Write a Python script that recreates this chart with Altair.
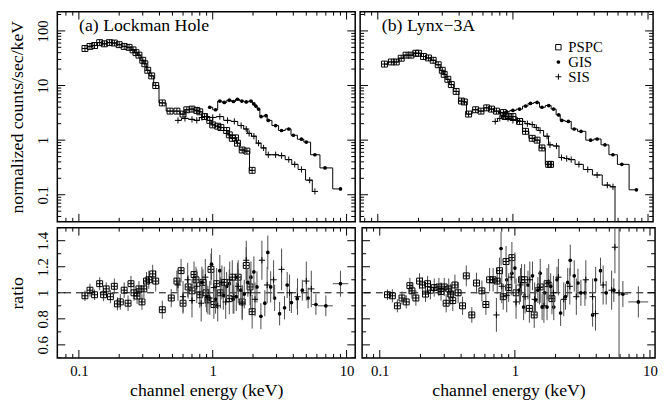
import altair as alt
import pandas as pd

# ---------------- Panel (a) Lockman Hole : spectra ----------------
a_pspc_e = [0.111, 0.121, 0.131, 0.143, 0.155, 0.169, 0.184, 0.20, 0.218, 0.237, 0.254, 0.267, 0.281, 0.30, 0.311,
            0.327, 0.35, 0.375, 0.42, 0.48, 0.54, 0.60, 0.64, 0.70, 0.76, 0.80, 0.87, 0.95, 1.0, 1.09, 1.15, 1.27,
            1.33, 1.40, 1.48, 1.53, 1.66, 1.80, 1.97]
a_pspc_f = [47.6, 52, 54, 61, 58, 61, 60, 56, 52, 50, 45, 40, 36, 29, 25, 19, 15, 10, 4.8, 3.4, 3.4, 3.0, 3.6, 3.7,
            3.5, 3.3, 2.7, 2.3, 1.9, 1.8, 1.7, 1.5, 1.25, 1.08, 1.1, 0.88, 0.66, 0.63, 0.28]
a_gis_e = [0.95, 1.05, 1.13, 1.22, 1.33, 1.43, 1.53, 1.65, 1.78, 1.93, 2.03, 2.1, 2.2, 2.3, 2.5, 2.6, 2.95, 3.27,
           3.7, 4.0, 4.6, 5.0, 5.8, 6.9, 9.0]
a_gis_f = [4.0, 3.6, 5.2, 4.9, 5.4, 5.1, 5.6, 5.2, 5.0, 5.2, 4.6, 4.2, 3.7, 2.7, 2.8, 2.3, 1.85, 1.5, 1.6, 1.23,
           1.04, 0.92, 0.54, 0.31, 0.128]
a_sis_e = [0.55, 0.62, 0.70, 0.76, 0.83, 0.90, 1.0, 1.13, 1.29, 1.45, 1.63, 1.78, 1.87, 2.03, 2.2, 2.4, 2.6, 2.95,
           3.27, 3.7, 4.1, 4.6, 5.3, 5.8]
a_sis_f = [2.3, 2.5, 2.4, 2.3, 2.6, 2.7, 2.6, 2.7, 2.3, 2.2, 1.85, 1.6, 1.33, 1.18, 0.88, 0.72, 0.54, 0.54, 0.52,
           0.44, 0.36, 0.29, 0.185, 0.115]

# ---------------- Panel (b) Lynx-3A : spectra ----------------
b_pspc_e = [0.112, 0.126, 0.137, 0.149, 0.162, 0.176, 0.191, 0.20, 0.218, 0.237, 0.257, 0.28, 0.30, 0.31, 0.33,
            0.35, 0.38, 0.416, 0.437, 0.47, 0.53, 0.58, 0.64, 0.695, 0.755, 0.85, 0.875, 0.93, 1.0, 1.12, 1.24,
            1.39, 1.51, 1.64, 1.84, 1.9]
b_pspc_f = [24.7, 27, 27, 31.6, 36, 36, 39, 39, 34, 32, 29, 24, 19, 16, 13, 10.4, 7.8, 5.2, 5.0, 3.0, 3.6, 3.4,
            3.9, 3.7, 3.4, 3.2, 2.7, 2.7, 2.7, 2.2, 1.45, 1.08, 1.0, 0.72, 0.36, 0.36]
b_gis_e = [0.8, 0.9, 1.0, 1.12, 1.24, 1.35, 1.51, 1.64, 1.84, 2.0, 2.18, 2.3, 2.57, 2.84, 3.19, 3.76, 4.2, 4.8,
           5.5, 6.4, 8.2]
b_gis_f = [3.2, 3.3, 3.5, 3.7, 4.2, 4.7, 4.9, 4.0, 4.3, 3.7, 2.9, 2.3, 2.2, 1.6, 1.45, 1.0, 1.05, 0.82, 0.54,
           0.36, 0.123]
b_sis_e = [0.74, 0.80, 0.85, 0.92, 1.0, 1.08, 1.18, 1.28, 1.39, 1.49, 1.59, 1.79, 1.88, 2.1, 2.29, 2.5, 2.7,
           3.08, 3.58, 4.2, 5.0, 5.5, 5.9]
b_sis_f = [2.2, 2.5, 2.7, 2.5, 2.3, 2.3, 2.2, 2.0, 1.93, 1.7, 1.5, 1.18, 0.82, 0.78, 0.48, 0.46, 0.44, 0.36,
           0.29, 0.23, 0.15, 0.14, 0.01]

# ---------------- Panel (a) : data/model ratio ----------------
ra_pspc_e = [0.111, 0.121, 0.131, 0.143, 0.153, 0.160, 0.172, 0.184, 0.194, 0.204, 0.218, 0.233, 0.245, 0.258,
             0.272, 0.281, 0.296, 0.306, 0.320, 0.333, 0.356, 0.375, 0.42, 0.49, 0.54, 0.58, 0.60, 0.655, 0.70,
             0.725, 0.75, 0.80, 0.845, 0.89, 0.92, 0.97, 1.02, 1.07, 1.14, 1.22, 1.33, 1.40, 1.55, 1.66, 1.78,
             1.90, 1.97]
ra_pspc_r = [0.977, 1.02, 0.985, 1.07, 0.985, 1.03, 0.97, 1.05, 0.915, 0.93, 1.02, 0.92, 1.07, 1.0, 0.975, 1.03,
             0.93, 1.03, 1.09, 1.10, 1.145, 1.09, 0.87, 0.96, 1.09, 1.17, 0.92, 1.045, 1.015, 1.14, 1.1, 0.985,
             1.08, 1.0, 0.945, 1.18, 0.91, 1.07, 1.0, 1.08, 0.955, 1.12, 1.12, 0.93, 1.21, 1.045, 0.855]
ra_pspc_s = [0.04, 0.05, 0.04, 0.05, 0.05, 0.05, 0.05, 0.06, 0.05, 0.06, 0.06, 0.06, 0.06, 0.06, 0.06, 0.06,
             0.06, 0.07, 0.07, 0.07, 0.07, 0.08, 0.07, 0.07, 0.08, 0.09, 0.08, 0.09, 0.09, 0.1, 0.1, 0.1, 0.1,
             0.11, 0.11, 0.12, 0.11, 0.12, 0.12, 0.12, 0.12, 0.13, 0.13, 0.13, 0.14, 0.14, 0.13]
ra_gis_e = [0.83, 0.90, 0.98, 1.05, 1.13, 1.20, 1.27, 1.33, 1.42, 1.50, 1.53, 1.62, 1.72, 1.83, 1.93, 2.03, 2.14,
            2.29, 2.45, 2.58, 2.71, 2.90, 3.16, 3.44, 3.60, 3.87, 4.28, 4.67, 5.16, 5.90, 7.0, 9.0]
ra_gis_r = [1.08, 0.97, 1.22, 0.95, 1.17, 0.98, 1.05, 1.07, 0.95, 0.97, 1.12, 1.02, 0.99, 1.08, 1.12, 1.16, 1.045,
            0.82, 0.92, 1.31, 1.045, 0.96, 0.84, 0.885, 1.06, 0.925, 0.955, 1.02, 0.96, 0.91, 0.9, 1.07]
ra_gis_s = [0.12, 0.12, 0.12, 0.11, 0.12, 0.11, 0.11, 0.11, 0.11, 0.11, 0.11, 0.11, 0.11, 0.11, 0.12, 0.12, 0.12,
            0.1, 0.1, 0.13, 0.12, 0.1, 0.09, 0.09, 0.1, 0.08, 0.08, 0.08, 0.08, 0.08, 0.08, 0.1]
ra_sis_e = [0.55, 0.60, 0.65, 0.70, 0.76, 0.82, 0.88, 0.95, 1.02, 1.09, 1.17, 1.25, 1.34, 1.44, 1.55, 1.66, 1.78,
            1.92, 2.07, 2.33, 2.55, 2.85, 3.27, 3.75, 4.3, 5.0, 5.45]
ra_sis_r = [1.06, 0.97, 1.1, 0.94, 1.05, 0.92, 1.12, 0.96, 1.04, 0.9, 1.08, 0.93, 1.1, 0.97, 1.05, 0.92, 1.25, 1.0,
            0.95, 1.25, 1.06, 1.1, 1.18, 1.0, 0.97, 1.09, 1.03]
ra_sis_s = [0.12, 0.12, 0.13, 0.13, 0.13, 0.14, 0.14, 0.13, 0.13, 0.12, 0.13, 0.13, 0.14, 0.13, 0.13, 0.13, 0.15,
            0.13, 0.13, 0.15, 0.14, 0.15, 0.16, 0.14, 0.14, 0.15, 0.14]
ra_wide_e = [5.9, 7.0, 9.0]
ra_wide_lo = [5.5, 6.1, 7.9]
ra_wide_hi = [6.1, 7.9, 10.3]
ra_wide_r = [0.91, 0.9, 1.07]

# ---------------- Panel (b) : data/model ratio ----------------
rb_pspc_e = [0.114, 0.124, 0.135, 0.146, 0.157, 0.167, 0.173, 0.185, 0.197, 0.207, 0.218, 0.226, 0.237, 0.253,
             0.274, 0.284, 0.30, 0.31, 0.324, 0.335, 0.347, 0.36, 0.38, 0.41, 0.437, 0.48, 0.52, 0.57, 0.61, 0.65,
             0.69, 0.74, 0.77, 0.82, 0.86, 0.90, 0.95, 1.02, 1.12, 1.18, 1.28, 1.39, 1.54, 1.73, 1.88]
rb_pspc_r = [0.985, 0.977, 0.90, 0.96, 0.93, 1.055, 1.015, 0.96, 1.09, 1.06, 0.99, 1.07, 1.02, 1.04, 1.045, 1.01,
             1.045, 0.92, 1.03, 0.99, 0.94, 1.06, 1.0, 0.9, 1.13, 0.83, 1.075, 1.015, 0.91, 1.1, 1.1, 1.09, 1.17,
             0.97, 1.24, 1.04, 1.27, 1.0, 1.1, 1.1, 0.88, 0.83, 1.045, 1.07, 0.955]
rb_pspc_s = [0.04, 0.05, 0.05, 0.05, 0.05, 0.06, 0.06, 0.06, 0.06, 0.06, 0.06, 0.06, 0.07, 0.07, 0.07, 0.07, 0.07,
             0.07, 0.08, 0.08, 0.08, 0.08, 0.08, 0.07, 0.08, 0.06, 0.08, 0.08, 0.08, 0.09, 0.09, 0.1, 0.1, 0.1,
             0.12, 0.11, 0.12, 0.11, 0.12, 0.12, 0.11, 0.1, 0.12, 0.12, 0.12]
rb_gis_e = [0.79, 0.87, 0.95, 1.0, 1.08, 1.16, 1.25, 1.35, 1.42, 1.48, 1.54, 1.59, 1.66, 1.73, 1.84, 1.94, 2.05,
            2.18, 2.37, 2.46, 2.57, 2.75, 2.93, 3.08, 3.3, 3.76, 3.96, 4.3, 4.74, 5.4, 6.3, 8.2]
rb_gis_r = [1.34, 1.1, 1.15, 1.19, 1.02, 0.89, 1.06, 1.13, 0.945, 1.02, 1.15, 0.89, 1.0, 0.89, 1.05, 0.89, 1.1,
            0.845, 0.97, 1.08, 1.25, 1.13, 1.075, 1.0, 1.0, 0.83, 1.1, 1.17, 1.0, 1.02, 0.99, 0.93]
rb_gis_s = [0.13, 0.12, 0.12, 0.12, 0.11, 0.1, 0.11, 0.11, 0.1, 0.1, 0.11, 0.1, 0.1, 0.1, 0.1, 0.1, 0.1, 0.1,
            0.1, 0.11, 0.12, 0.12, 0.11, 0.1, 0.1, 0.09, 0.1, 0.1, 0.09, 0.09, 0.1, 0.12]
rb_sis_e = [0.73, 0.80, 0.87, 0.94, 1.02, 1.10, 1.19, 1.29, 1.40, 1.52, 1.64, 1.78, 1.93, 2.1, 2.3, 2.55, 2.85,
            3.35, 3.76, 3.95, 4.5, 5.2, 5.5, 5.9]
rb_sis_r = [0.83, 1.05, 0.98, 1.12, 0.93, 1.06, 0.97, 1.1, 0.95, 1.04, 0.9, 1.08, 1.0, 1.12, 0.95, 1.05, 0.97,
            1.1, 0.97, 0.84, 1.06, 1.02, 1.35, 1.0]
rb_sis_s = [0.13, 0.13, 0.13, 0.14, 0.13, 0.13, 0.13, 0.14, 0.13, 0.13, 0.13, 0.14, 0.13, 0.14, 0.13, 0.14, 0.14,
            0.15, 0.14, 0.13, 0.15, 0.15, 0.2, 1.0]
rb_wide_e = [6.3, 8.2]
rb_wide_lo = [5.9, 6.9]
rb_wide_hi = [6.9, 9.7]
rb_wide_r = [0.99, 0.93]

# ---------------- axis tick values ----------------
XMAJ = [0.1, 1, 10]
XMIN = [0.08, 0.09, 0.2, 0.3, 0.4, 0.5, 0.6, 0.7, 0.8, 0.9, 2, 3, 4, 5, 6, 7, 8, 9]
YMAJ_TOP = [0.1, 1, 10, 100]
YMIN_TOP = [0.04, 0.05, 0.06, 0.07, 0.08, 0.09, 0.2, 0.3, 0.4, 0.5, 0.6, 0.7, 0.8, 0.9, 2, 3, 4, 5, 6, 7, 8, 9,
            20, 30, 40, 50, 60, 70, 80, 90, 200]
YMAJ_R = [0.6, 0.8, 1.0, 1.2, 1.4]
YMIN_R = [0.5, 0.7, 0.9, 1.1, 1.3, 1.5]

legend_names = ["PSPC", "GIS", "SIS"]

FONT = "Liberation Serif"
BLACK = "black"
ERR = "#4a4a4a"
PLUS = "M-1,0L1,0M0,-1L0,1"
WA = 302
WB = 297
H_TOP = 213
H_R = 132

XS_A = alt.Scale(type="log", domain=[0.069, 11.6], nice=False)
XS_B = alt.Scale(type="log", domain=[0.074, 10.9], nice=False)
YS_TOP = alt.Scale(type="log", domain=[0.032, 225], nice=False)
YS_R = alt.Scale(type="linear", domain=[0.5, 1.5], nice=False, zero=False)


def xaxis_bottom():
    return alt.Axis(values=XMAJ, format="~g", ticks=False, tickSize=0, domain=False, grid=False,
                    title="channel energy (keV)", labelPadding=6, titlePadding=3,
                    labelFontSize=15, titleFontSize=18)


def yaxis_left(vals, title, tpad):
    return alt.Axis(values=vals, format="~g", labelAngle=-90, labelAlign="center", labelBaseline="bottom",
                    ticks=False, tickSize=0, domain=False, grid=False, title=title,
                    labelPadding=7, titlePadding=tpad, labelFontSize=15, titleFontSize=18)


def tick_layers(W, H, xs, ys, xax, yax, ymaj, ymin):
    out = []
    for vals, L in ((XMAJ, 8), (XMIN, 4)):
        d = pd.DataFrame({"E": vals})
        for y0, y1 in ((H, H - L), (0, L)):
            out.append(alt.Chart(d).mark_rule(color=BLACK, strokeWidth=1, clip=True).encode(
                x=alt.X("E:Q", scale=xs, axis=xax), y=alt.value(y0), y2=alt.value(y1)))
    for vals, L in ((ymaj, 8), (ymin, 4)):
        d = pd.DataFrame({"Y": vals})
        for x0, x1 in ((0, L), (W, W - L)):
            out.append(alt.Chart(d).mark_rule(color=BLACK, strokeWidth=1, clip=True).encode(
                y=alt.Y("Y:Q", scale=ys, axis=yax), x=alt.value(x0), x2=alt.value(x1)))
    return out


def marker_layers(base, kind):
    if kind == "PSPC":
        return [base.mark_point(shape="square", filled=False, size=36, color=BLACK, strokeWidth=1, opacity=1, clip=True),
                base.mark_point(shape=PLUS, filled=False, size=36, color=BLACK, strokeWidth=1, opacity=1, clip=True)]
    if kind == "GIS":
        return [base.mark_point(shape="circle", filled=True, size=14, color=BLACK, opacity=1, clip=True)]
    return [base.mark_point(shape=PLUS, filled=False, size=40, color=BLACK, strokeWidth=1, opacity=1, clip=True)]


def top_panel(series, label, W, xs, left, legend=False):
    xax = None
    yax = yaxis_left(YMAJ_TOP, "normalized counts/sec/keV", 9) if left else None
    layers = tick_layers(W, H_TOP, xs, YS_TOP, xax, yax, YMAJ_TOP, YMIN_TOP)
    for kind, e, f in series:
        d = pd.DataFrame({"E": e, "Y": f})
        base = alt.Chart(d).encode(x=alt.X("E:Q", scale=xs, axis=xax), y=alt.Y("Y:Q", scale=YS_TOP, axis=yax))
        layers.append(base.mark_line(interpolate="step", color=BLACK, strokeWidth=1, clip=True))
        layers += marker_layers(base, kind)
    layers.append(alt.Chart(pd.DataFrame({"t": [label]})).mark_text(
        align="left", baseline="alphabetic", font=FONT, fontSize=18, color=BLACK).encode(
        x=alt.value(22), y=alt.value(20), text="t:N"))
    if legend:
        shapes = [("square", False, 30), ("circle", True, 14), (PLUS, False, 36)]
        for i, name in enumerate(legend_names):
            shp, fl, sz = shapes[i]
            dd = pd.DataFrame({"t": [name]})
            layers.append(alt.Chart(dd).mark_point(shape=shp, filled=fl, size=sz, color=BLACK, strokeWidth=1,
                                                   opacity=1).encode(x=alt.value(201), y=alt.value(36 + 15 * i)))
            layers.append(alt.Chart(dd).mark_text(align="left", baseline="middle", font=FONT, fontSize=15,
                                                  color=BLACK).encode(x=alt.value(211), y=alt.value(36 + 15 * i),
                                                                      text="t:N"))
    return alt.layer(*layers).properties(width=W, height=H_TOP)


def ratio_panel(series, wide, W, xs, left):
    xax = xaxis_bottom()
    yax = yaxis_left(YMAJ_R, "ratio", 9) if left else None
    layers = tick_layers(W, H_R, xs, YS_R, xax, yax, YMAJ_R, YMIN_R)
    layers.append(alt.Chart(pd.DataFrame({"Y": [1.0]})).mark_rule(
        color=BLACK, strokeWidth=1, strokeDash=[7, 5]).encode(y=alt.Y("Y:Q", scale=YS_R, axis=yax)))
    we, wlo, whi, wr = wide
    wd = pd.DataFrame({"E": we, "lo": wlo, "hi": whi, "Y": wr})
    layers.append(alt.Chart(wd).mark_rule(color=ERR, strokeWidth=1, clip=True).encode(
        x=alt.X("lo:Q", scale=xs, axis=xax), x2="hi:Q", y=alt.Y("Y:Q", scale=YS_R, axis=yax)))
    for kind, e, r, s in series:
        d = pd.DataFrame({"E": e, "Y": r, "S": s})
        err = alt.Chart(d).transform_calculate(lo="datum.Y - datum.S", hi="datum.Y + datum.S").mark_rule(
            color=ERR, strokeWidth=1, clip=True).encode(
            x=alt.X("E:Q", scale=xs, axis=xax), y=alt.Y("lo:Q", scale=YS_R, axis=yax), y2="hi:Q")
        layers.append(err)
        base = alt.Chart(d).encode(x=alt.X("E:Q", scale=xs, axis=xax), y=alt.Y("Y:Q", scale=YS_R, axis=yax))
        layers += marker_layers(base, kind)
    return alt.layer(*layers).properties(width=W, height=H_R)


topA = top_panel([("PSPC", a_pspc_e, a_pspc_f), ("GIS", a_gis_e, a_gis_f), ("SIS", a_sis_e, a_sis_f)],
                 "(a) Lockman Hole", WA, XS_A, True)
topB = top_panel([("PSPC", b_pspc_e, b_pspc_f), ("GIS", b_gis_e, b_gis_f), ("SIS", b_sis_e, b_sis_f)],
                 "(b) Lynx\u22123A", WB, XS_B, False, legend=True)
botA = ratio_panel([("PSPC", ra_pspc_e, ra_pspc_r, ra_pspc_s), ("GIS", ra_gis_e, ra_gis_r, ra_gis_s),
                    ("SIS", ra_sis_e, ra_sis_r, ra_sis_s)], (ra_wide_e, ra_wide_lo, ra_wide_hi, ra_wide_r),
                   WA, XS_A, True)
botB = ratio_panel([("PSPC", rb_pspc_e, rb_pspc_r, rb_pspc_s), ("GIS", rb_gis_e, rb_gis_r, rb_gis_s),
                    ("SIS", rb_sis_e, rb_sis_r, rb_sis_s)], (rb_wide_e, rb_wide_lo, rb_wide_hi, rb_wide_r),
                   WB, XS_B, False)

chart = alt.vconcat(
    alt.hconcat(topA, topB, spacing=3),
    alt.hconcat(botA, botB, spacing=3),
    spacing=4,
).properties(
    padding={"left": 0, "top": 0, "right": 0, "bottom": 0}
).configure_view(
    stroke=BLACK, strokeWidth=1.5
).configure_axis(
    labelFont=FONT, titleFont=FONT, labelColor=BLACK, titleColor=BLACK, titleFontWeight="normal"
)

chart.save("out.html", embed_options={"renderer": "svg", "actions": False})
